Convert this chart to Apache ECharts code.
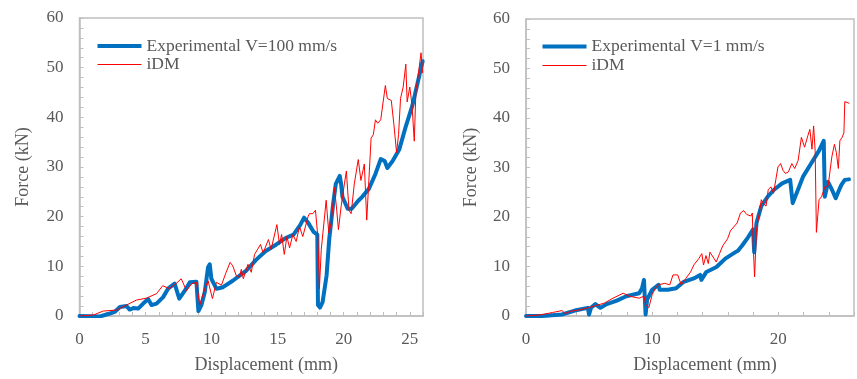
<!DOCTYPE html>
<html>
<head>
<meta charset="utf-8">
<script src="https://cdn.jsdelivr.net/npm/echarts@6/dist/echarts.min.js"></script>
<style>
html,body{margin:0;padding:0;background:#fff;}
#chart{width:857px;height:379px;}
</style>
</head>
<body>
<div id="chart"></div>
<script>
// ---- Left panel: V = 100 mm/s ----
const expFastX = [0,1.55,2.3,2.7,3.06,3.56,3.8,4.07,4.44,4.82,5.2,5.45,5.83,6.33,6.7,7.2,7.55,7.97,8.35,8.85,9.0,9.23,9.48,9.73,9.86,9.98,10.36,10.86,11.6,12.6,13.4,14.1,14.9,15.6,16.2,16.7,17.0,17.3,17.7,18.0,18.05,18.2,18.4,18.7,18.9,19.2,19.4,19.7,19.8,19.9,20.3,20.6,21.1,21.4,21.9,22.4,22.8,23.1,23.3,23.7,24.2,24.7,25.2,25.6,25.97];
const expFastY = [0,-0.1,0.5,0.9,1.8,2.0,1.3,1.6,1.5,2.5,3.4,2.2,2.5,3.8,5.5,6.5,3.5,5.1,6.8,6.9,1.0,2.2,4.8,9.8,10.4,7.5,5.5,5.8,7.1,9.1,11.4,13.1,14.4,15.7,16.4,18.3,19.8,18.8,17.0,16.4,2.2,1.7,2.8,8.1,15.4,22.6,26.6,28.2,26.6,24.0,21.6,21.6,23.2,24.0,25.6,28.6,31.6,31.2,29.8,31.2,33.5,38.2,42.4,47.0,51.3];
const idmFastX = [0,1.05,1.8,2.8,3.56,4.3,5.07,5.83,6.3,6.8,7.3,7.7,8.1,8.5,8.85,9.1,9.48,9.73,10.06,10.36,10.74,11.1,11.4,11.6,11.87,12.1,12.25,12.4,12.75,13.0,13.25,13.7,13.9,14.3,14.5,14.94,15.14,15.3,15.5,15.7,15.9,16.15,16.4,16.65,16.9,17.3,17.4,17.66,17.86,18.04,18.16,18.3,18.4,18.67,18.87,19.05,19.3,19.47,19.6,19.8,20.05,20.2,20.4,20.56,20.8,21.1,21.3,21.56,21.74,21.94,22.07,22.24,22.4,22.57,22.8,23.15,23.3,23.6,23.8,24.0,24.15,24.3,24.5,24.7,24.8,25.0,25.17,25.34,25.47,25.6,25.85,25.97];
const idmFastY = [0,0.2,1.0,1.2,2.2,3.2,3.6,4.5,6.1,5.5,6.5,7.5,5.1,6.5,6.8,2.2,5.5,7.1,3.5,6.8,6.2,8.8,10.8,10.1,8.1,7.8,9.4,7.5,10.4,8.8,12.4,14.4,12.7,15.4,13.4,18.4,14.4,16.4,12.4,16.0,13.7,16.4,15.0,18.0,16.0,20.0,20.6,20.6,21.3,16.0,5.5,13.4,13.1,23.3,16.7,18.7,25.9,21.3,17.4,22.0,26.6,29.2,21.3,20.6,26.6,31.5,27.3,30.6,19.3,29.2,35.8,36.5,39.5,38.8,39.5,46.4,43.8,43.4,38.5,32.9,36.5,43.8,46.1,50.7,43.1,46.1,42.4,35.2,45.7,47.7,53.0,49.0];

// ---- Right panel: V = 1 mm/s ----
const expSlowX = [0,1.3,2.85,3.87,4.9,5.0,5.15,5.5,5.9,6.4,7.2,7.95,8.97,9.2,9.35,9.48,9.6,10.0,10.5,10.6,11.25,11.9,12.5,13.3,13.8,13.9,14.3,15.1,15.8,16.6,16.8,17.12,17.6,18.0,18.09,18.27,18.65,19.16,19.66,20.3,20.94,21.14,21.45,21.95,22.6,23.23,23.6,23.69,23.94,24.2,24.55,24.76,25.0,25.27,25.6];
const expSlowY = [0,0,0.3,1.1,1.65,0.3,1.65,2.4,1.65,2.4,3.1,4.0,4.6,5.6,7.3,0.3,3.3,5.3,6.3,5.3,5.3,5.6,6.9,7.6,8.3,7.3,8.9,9.9,11.6,12.9,13.2,14.2,15.9,17.5,12.9,18.8,22.2,24.1,25.5,26.8,27.5,22.8,24.8,28.1,30.8,33.4,35.4,24.1,27.1,25.8,23.8,25.1,26.5,27.5,27.6];
const idmSlowX = [0,1.07,2.1,2.85,3.1,3.6,4.4,5.4,6.2,6.9,7.7,8.2,8.97,9.35,9.49,9.74,10.0,10.25,10.5,11.0,11.4,11.65,12.03,12.3,12.67,13.05,13.3,13.7,13.94,14.07,14.27,14.45,14.58,15.08,15.34,15.6,15.98,16.2,16.74,17.0,17.25,17.5,17.83,17.94,18.0,18.12,18.27,18.5,18.65,18.78,19.03,19.2,19.41,19.62,19.8,19.97,20.18,20.38,20.56,20.8,21.07,21.3,21.57,21.83,22.08,22.34,22.5,22.67,22.8,22.92,23.02,23.23,23.43,23.69,23.95,24.24,24.45,24.6,24.76,24.88,25.06,25.2,25.27,25.6];
const idmSlowY = [0,0.2,0.7,1.1,0.5,1.0,1.3,2.0,2.6,3.6,4.6,4.0,3.6,4.0,2.3,1.7,4.3,5.6,6.3,6.6,6.3,8.3,8.3,6.3,7.6,8.9,10.3,11.6,12.6,10.3,12.2,10.6,12.9,10.9,12.6,14.2,15.6,17.2,18.8,20.8,21.3,20.5,20.2,20.8,14.9,7.9,17.5,20.8,23.5,22.8,22.2,25.5,26.1,24.8,27.5,30.1,30.8,29.4,28.8,29.1,30.8,29.8,31.4,36.1,34.1,36.4,37.7,33.7,38.4,33.4,16.9,23.5,24.1,26.1,26.3,32.1,34.7,33.0,29.8,35.4,36.1,37.0,43.3,43.0];

const seriesNames = ['Experimental V=100 mm/s','iDM','Experimental V=1 mm/s'];
const xTicksFast = {min:0, max:26, step:1, labelEvery:5};
const xTicksSlow = {min:0, max:26, step:2, labelEvery:10};
const yTicks = {min:0, max:60, step:2, labelEvery:10};

function pairs(xs, ys){ return xs.map((x,i)=>[x, ys[i]]); }

const FONT = 'Liberation Serif';
const GRAY = '#595959';
const BORDER = '#bfbfbf';
const BLUE = '#0070c0';
const RED = '#ff0000';

function xAxis(idx, t){
  return {
    type:'value', gridIndex:idx, min:t.min, max:t.max, interval:t.step,
    name:'Displacement (mm)', nameLocation:'middle', nameGap:40,
    nameTextStyle:{fontFamily:FONT, fontSize:18, color:GRAY, padding:[0,0,0,30]},
    axisLine:{show:true, lineStyle:{color:BORDER, width:1.5}},
    axisTick:{show:true, inside:true, length:4, lineStyle:{color:BORDER}},
    axisLabel:{fontFamily:FONT, fontSize:17, color:GRAY, margin:15,
      formatter:v => (Math.abs(v % t.labelEvery) < 1e-9 ? String(v) : '')},
    splitLine:{show:false}
  };
}
function yAxis(idx, t, gap){
  return {
    type:'value', gridIndex:idx, min:t.min, max:t.max, interval:t.step,
    name:'Force (kN)', nameLocation:'middle', nameGap:gap,
    nameTextStyle:{fontFamily:FONT, fontSize:18, color:GRAY},
    axisLine:{show:true, lineStyle:{color:BORDER, width:1.5}},
    axisTick:{show:true, inside:true, length:4, lineStyle:{color:BORDER}},
    axisLabel:{fontFamily:FONT, fontSize:17, color:GRAY, margin:16,
      formatter:v => (Math.abs(v % t.labelEvery) < 1e-9 ? String(v) : '')},
    splitLine:{show:false}
  };
}
function legend(left, top, name, h, color){
  return {
    orient:'vertical', left:left, top:top, itemWidth:44, itemHeight:h, itemGap:0,
    data:[{name:name, icon:'rect', itemStyle:{color:color}}], selectedMode:false,
    textStyle:{fontFamily:FONT, fontSize:17.5, color:GRAY, padding:[0,0,0,0]}
  };
}
function line(name, data, xi, color, width, z){
  return {
    type:'line', name:name, data:data, xAxisIndex:xi, yAxisIndex:xi,
    symbol:'none', showSymbol:false, animation:false, z:z,
    lineStyle:{color:color, width:width, join:'round', cap:'round'}, itemStyle:{color:color},
    clip:true
  };
}

const chart = echarts.init(document.getElementById('chart'), null, {renderer:'canvas'});
chart.setOption({
  backgroundColor:'#fff',
  animation:false,
  grid:[
    {left:79.5, top:18, width:343.5, height:303, show:true, borderColor:BORDER, borderWidth:1.5, backgroundColor:'transparent'},
    {left:526, top:19, width:341, height:302.5, show:true, borderColor:BORDER, borderWidth:1.5, backgroundColor:'transparent'}
  ],
  legend:[
    legend(92.5, 32, seriesNames[0], 4, BLUE),
    legend(92.5, 50.5, seriesNames[1], 1, RED),
    legend(537.5, 32.5, seriesNames[2], 4, BLUE),
    legend(537.5, 51.5, seriesNames[1], 1, RED)
  ],
  xAxis:[ xAxis(0, xTicksFast), xAxis(1, xTicksSlow) ],
  yAxis:[ yAxis(0, yTicks, 47), yAxis(1, yTicks, 46) ],
  series:[
    line(seriesNames[0], pairs(expFastX, expFastY), 0, BLUE, 4, 2),
    line(seriesNames[1], pairs(idmFastX, idmFastY), 0, RED, 1, 3),
    line(seriesNames[2], pairs(expSlowX, expSlowY), 1, BLUE, 4, 2),
    line(seriesNames[1], pairs(idmSlowX, idmSlowY), 1, RED, 1, 3)
  ]
});
</script>
</body>
</html>
